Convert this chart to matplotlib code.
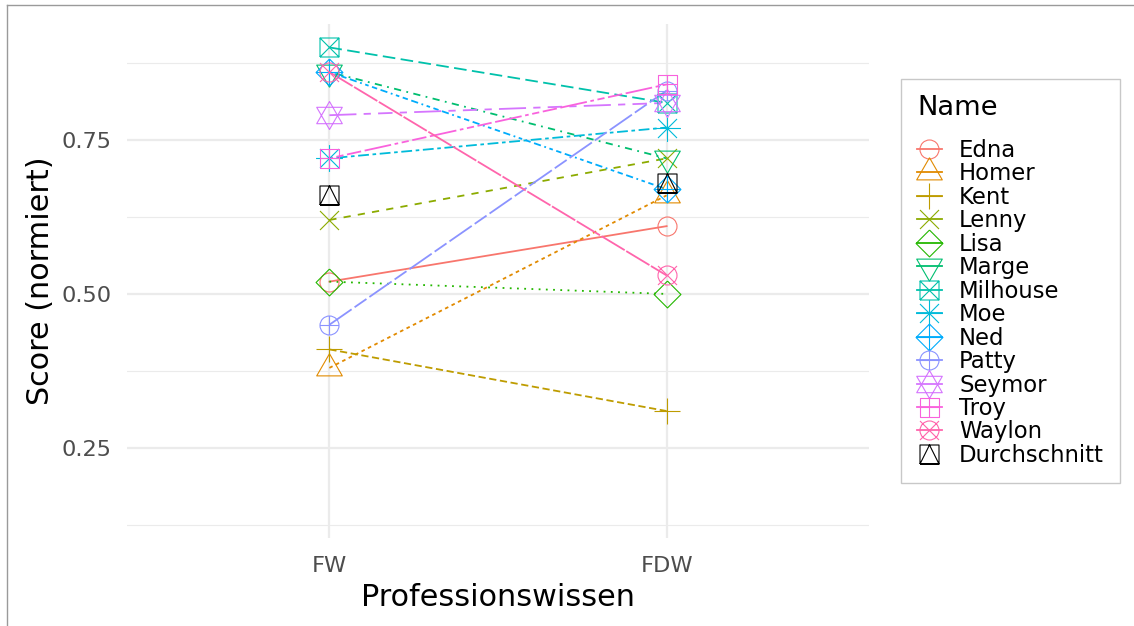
import numpy as np
import matplotlib
matplotlib.use('Agg')
import matplotlib.pyplot as plt
from matplotlib.path import Path
from matplotlib.lines import Line2D

# data
names = ['Edna', 'Homer', 'Kent', 'Lenny', 'Lisa', 'Marge', 'Milhouse', 'Moe',
         'Ned', 'Patty', 'Seymor', 'Troy', 'Waylon', 'Durchschnitt']
categories = ['FW', 'FDW']
score_fw = [0.52, 0.38, 0.41, 0.62, 0.52, 0.86, 0.90, 0.72, 0.86, 0.45, 0.79, 0.72, 0.86, 0.66]
score_fdw = [0.61, 0.66, 0.31, 0.72, 0.50, 0.72, 0.81, 0.77, 0.67, 0.83, 0.81, 0.84, 0.53, 0.68]
yticks = [0.25, 0.50, 0.75]

# ggplot hue palette for 13 + black for the average
colors = ['#F8766D', '#E18A00', '#BE9C00', '#8CAB00', '#24B700', '#00BE70', '#00C1AB',
          '#00BBDA', '#00ACFC', '#8B93FF', '#D575FE', '#F962DD', '#FF65AC', '#000000']
# ggplot linetypes (hex patterns); the 14th gets none
dashes = [None, (2, 2), (4, 2), (4, 4), (1, 3), (1, 3, 4, 3), (7, 3), (2, 2, 6, 2),
          (1, 2, 2, 2, 3, 2, 4, 2), (15, 2, 8, 2), (15, 4, 4, 4, 8, 4, 4, 4),
          (2, 2, 4, 2, 8, 2, 15, 2), (15, 1), 'none']

DPI = 100
R = 9.5                    # pch radius in px
S2 = np.sqrt(2) * R
TR, TX, TY = 1.5551 * R, 1.3468 * R, 0.7776 * R


def poly(pts):
    pts = list(pts) + [pts[0]]
    codes = [Path.MOVETO] + [Path.LINETO] * (len(pts) - 1)
    return Path(pts, codes)


def segs(*lines):
    v, c = [], []
    for a, b in lines:
        v += [a, b]
        c += [Path.MOVETO, Path.LINETO]
    return Path(v, c)


def circ(r):
    return Path.circle((0, 0), r)


sq = poly([(-R, -R), (R, -R), (R, R), (-R, R)])
plus_l = segs(((-S2, 0), (S2, 0)), ((0, -S2), (0, S2)))
plus_s = segs(((-R, 0), (R, 0)), ((0, -R), (0, R)))
cross = segs(((-R, -R), (R, R)), ((-R, R), (R, -R)))
diam = poly([(0, S2), (S2, 0), (0, -S2), (-S2, 0)])
tri_up = poly([(0, TR), (TX, -TY), (-TX, -TY)])
tri_dn = poly([(0, -TR), (TX, TY), (-TX, TY)])
star_up = poly([(0, 14), (12.8, -8.2), (-12.8, -8.2)])
star_dn = poly([(0, -14), (12.8, 8.2), (-12.8, 8.2)])

C = Path.make_compound_path
shapes = [circ(R), tri_up, plus_l, cross, diam, tri_dn, C(sq, cross), C(cross, plus_l),
          C(diam, plus_l), C(circ(R), plus_s), C(star_up, star_dn), C(sq, plus_s),
          C(circ(R), cross), C(sq, poly([(-R, -R), (0, R), (R, -R)]))]
msizes = [2 * np.abs(p.vertices).max() * 72 / DPI for p in shapes]

plt.rcParams['font.family'] = ['DejaVu Sans']

fig = plt.figure(figsize=(11.34, 6.26), dpi=DPI)
fig.patch.set_facecolor('w')
ax = fig.add_axes([127 / 1134, 1 - 538 / 626, (869 - 127) / 1134, (538 - 24) / 626])

xpos = np.arange(len(categories)) + 1
LW = 1.3
for i, name in enumerate(names):
    vals = [score_fw[i], score_fdw[i]]
    if dashes[i] != 'none':
        ln, = ax.plot(xpos, vals, color=colors[i], lw=LW, zorder=2)
        if dashes[i] is not None:
            ln.set_dashes(dashes[i])
for i, name in enumerate(names):
    vals = [score_fw[i], score_fdw[i]]
    ax.plot(xpos, vals, ls='none', marker=shapes[i], ms=msizes[i], mfc='none',
            mec=colors[i], mew=0.8, zorder=3)

ax.set_xlim(0.4, 2.6)
ax.set_ylim(0.104, 0.938)
ax.set_xticks(xpos)
ax.set_xticklabels(categories)
ax.set_yticks(yticks)
ax.set_yticklabels(['%.2f' % t for t in yticks])
ax.set_yticks([0.125, 0.375, 0.625, 0.875], minor=True)
ax.grid(which='major', color='#EBEBEB', lw=1.6)
ax.grid(which='minor', axis='y', color='#EBEBEB', lw=0.8)
ax.set_axisbelow(True)
for s in ax.spines.values():
    s.set_visible(False)
ax.tick_params(which='both', length=0, labelsize=16.2, labelcolor='#4D4D4D')
ax.tick_params(axis='x', pad=13)
ax.tick_params(axis='y', pad=11)
ax.set_xlabel('Professionswissen', fontsize=21.8, labelpad=5)
ax.set_ylabel('Score (normiert)', fontsize=21.8, labelpad=5)

handles = []
for i in range(len(names)):
    handles.append(Line2D([], [], color=colors[i], lw=LW,
                          ls='-' if dashes[i] != 'none' else 'none',
                          marker=shapes[i], ms=msizes[i], mfc='none',
                          mec=colors[i], mew=0.8))
leg = fig.legend(handles, names, title='Name', loc='upper left',
                 bbox_to_anchor=(901 / 1134, 1 - 79 / 626), borderaxespad=0,
                 fontsize=16.4, title_fontsize=19.7, alignment='left',
                 frameon=True, fancybox=False, edgecolor='#BBBBBB',
                 labelspacing=0.02, handlelength=1.1, handletextpad=0.75,
                 borderpad=0.7)
leg.get_frame().set_linewidth(1.0)
leg._legend_box.sep = 13  # gap between title and keys

# outer frame (only top and left visible in the reference)
fig.add_artist(Line2D([7 / 1134, 7 / 1134], [0, 1 - 5 / 626], color='#9A9A9A', lw=1.0))
fig.add_artist(Line2D([7 / 1134, 1], [1 - 5 / 626, 1 - 5 / 626], color='#9A9A9A', lw=1.0))

plt.savefig('out.png', dpi=DPI)
